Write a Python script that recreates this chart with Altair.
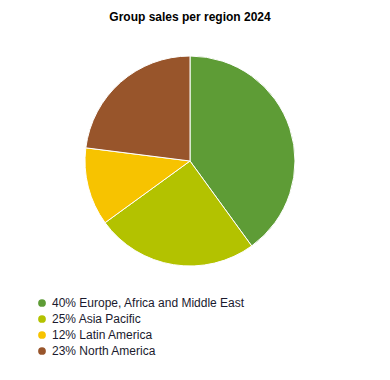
import altair as alt
import pandas as pd

regions = ["Europe, Africa and Middle East", "Asia Pacific", "Latin America", "North America"]
shares = [40, 25, 12, 23]
colors = ["#5e9c36", "#b3c200", "#f7c300", "#98552b"]

labels = [f"{s}% {r}" for s, r in zip(shares, regions)]
df = pd.DataFrame({"label": labels, "share": shares, "order": list(range(len(labels)))})

chart = alt.Chart(df).mark_arc(outerRadius=105, stroke="white", strokeWidth=1).encode(
    theta=alt.Theta("share:Q", stack=True),
    order=alt.Order("order:Q"),
    color=alt.Color(
        "label:N",
        sort=labels,
        scale=alt.Scale(domain=labels, range=colors),
        legend=alt.Legend(
            title=None,
            orient="none",
            legendX=28,
            legendY=256,
            symbolType="circle",
            symbolSize=60,
            symbolStrokeWidth=0,
            labelFontSize=12,
            labelFont="Liberation Sans",
            labelColor="#1a1a2e",
            labelLimit=0,
            rowPadding=4,
            labelOffset=4,
        ),
    ),
).properties(
    width=364,
    height=240,
    padding={"left": 0, "top": 3, "right": 0, "bottom": 0},
    title=alt.TitleParams(
        "Group sales per region 2024",
        fontSize=12,
        fontWeight="bold",
        font="Liberation Sans",
        color="#000000",
        anchor="middle",
        offset=17,
    ),
).configure_view(stroke=None)

chart.save("out.html", embed_options={"renderer": "svg", "actions": False})
